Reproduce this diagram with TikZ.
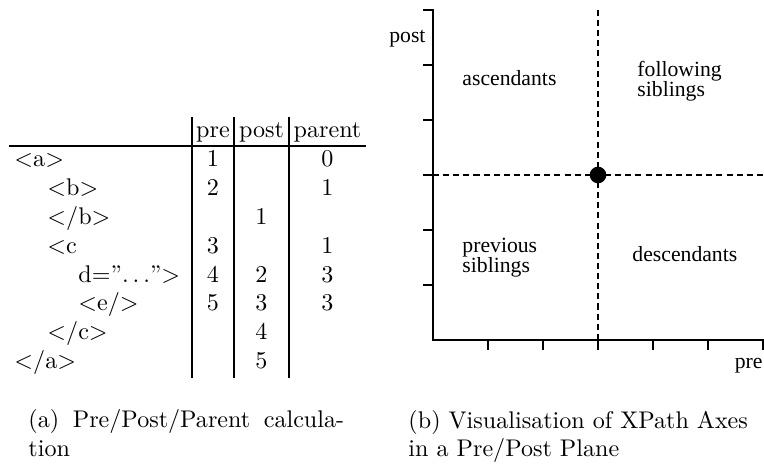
\documentclass[tikz,border=0pt]{standalone}
\usepackage{fontspec}
\newfontfamily\plotfont{Liberation Serif}
\usepackage{amsmath}
\usepackage{tikz}

\begin{document}
\begin{tikzpicture}[x=0.415pt,y=-0.415pt]

%
% Styles
%
\tikzstyle{tagtext}   = [anchor=base west,inner sep=0pt]
\tikzstyle{numcell}   = [anchor=base,inner sep=0pt]
\tikzstyle{tablerule} = [line width=0.45pt]
\tikzstyle{axisline}  = [line width=0.45pt]
\tikzstyle{guideline} = [line width=0.45pt,dash pattern=on 2.5pt off 1.7pt]
\tikzstyle{origin}    = [circle,fill=black,inner sep=0pt,minimum size=6.9pt]
\tikzstyle{region}    = [anchor=base west,inner sep=0pt,align=left,font=\plotfont\fontsize{9}{8.7}\selectfont]
\tikzstyle{axislabel} = [anchor=base east,inner sep=0pt,font=\plotfont\fontsize{9}{11}\selectfont]
\tikzstyle{captext}   = [anchor=base west,inner sep=0pt]

\useasboundingbox (0,0) rectangle (764,466);

% table head
\node[numcell] (hpre)    at (213,138)   {pre};
\node[numcell] (hpost)   at (261.5,138) {post};
\node[numcell] (hparent) at (327.5,138) {parent};

% tags
\node[tagtext] (ta)  at (14,167)   {$<$a$>$};
\node[tagtext] (tb)  at (47,195.8) {$<$b$>$};
\node[tagtext] (tbe) at (47,224.6) {$<$/b$>$};
\node[tagtext] (tc)  at (47,253.4) {$<$c};
\node[tagtext] (td)  at (78,282.2) {d=''$\ldots$''$>$};
\node[tagtext] (te)  at (78,311)   {$<$e/$>$};
\node[tagtext] (tce) at (47,339.8) {$<$/c$>$};
\node[tagtext] (tae) at (14,368.6) {$<$/a$>$};

% pre
\node[numcell] (pa) at (213,167)   {1};
\node[numcell] (pb) at (213,195.8) {2};
\node[numcell] (pc) at (213,253.4) {3};
\node[numcell] (pd) at (213,282.2) {4};
\node[numcell] (pe) at (213,311)   {5};

% post
\node[numcell] (qb) at (261.5,224.6) {1};
\node[numcell] (qd) at (261.5,282.2) {2};
\node[numcell] (qe) at (261.5,311)   {3};
\node[numcell] (qc) at (261.5,339.8) {4};
\node[numcell] (qa) at (261.5,368.6) {5};

% parent
\node[numcell] (ra) at (327.5,167)   {0};
\node[numcell] (rb) at (327.5,195.8) {1};
\node[numcell] (rc) at (327.5,253.4) {1};
\node[numcell] (rd) at (327.5,282.2) {3};
\node[numcell] (re) at (327.5,311)   {3};

\draw[tablerule] (9,146) -- (366,146);
\draw[tablerule] (192,117) -- (192,378);
\draw[tablerule] (234,117) -- (234,378);
\draw[tablerule] (289,117) -- (289,378);

% pre/post plane
\draw[axisline] (423,10) -- (433,10) -- (433,340) -- (763,340) -- (763,350);
\foreach \y in {65,120,175,230,285}
  \draw[axisline] (423,\y) -- (433,\y);
\foreach \x in {488,543,598,653,708}
  \draw[axisline] (\x,340) -- (\x,350);

\draw[guideline] (598,10) -- (598,340);
\draw[guideline] (433,175) -- (764,175);
\node[origin] (o) at (598,175) {};

\node[axislabel] (ypost) at (426,43)  {post};
\node[axislabel] (xpre)  at (763,369) {pre};

% (two-line labels sit on their last line)
\node[region] (asc)  at (462,86)  {ascendants};
\node[region] (fol)  at (637,97)  {following\\siblings};
\node[region] (prev) at (462,273) {previous\\siblings};
\node[region] (desc) at (632,262) {descendants};

% captions
\node[captext,text width=131pt,align=justify] (capa) at (28,428)
  {(a) Pre/Post/Parent calcula-\linebreak tion};
\node[captext,align=left] (capb) at (408,457)
  {(b) Visualisation of XPath Axes\\in a Pre/Post Plane};

\end{tikzpicture}
\end{document}
